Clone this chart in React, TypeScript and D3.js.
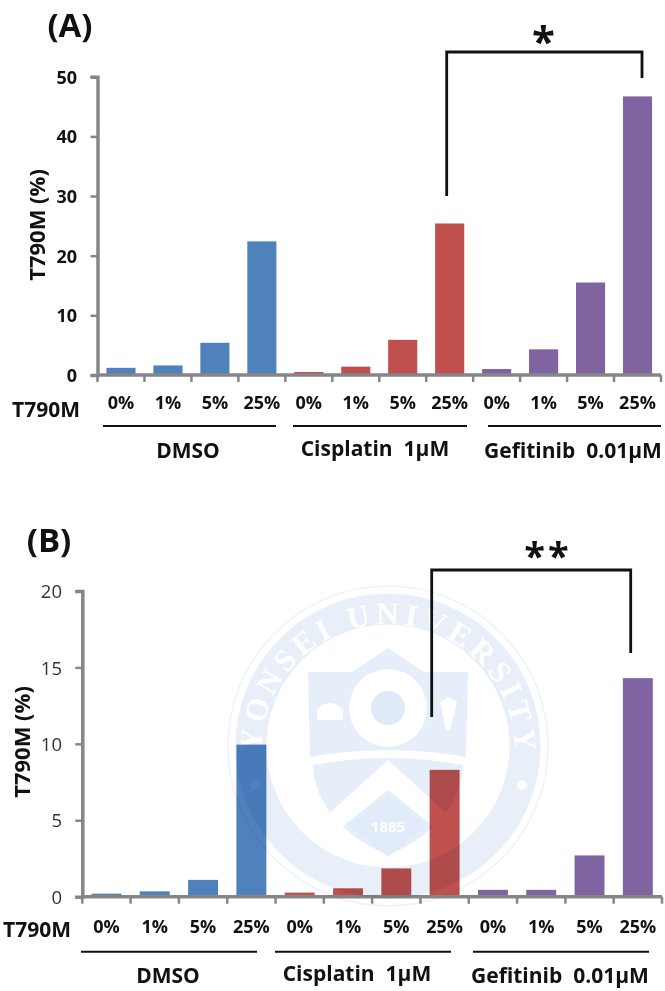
import React, { useEffect, useRef } from 'react';
import * as d3 from 'd3';

const doses = ['0%', '1%', '5%', '25%'];
const groups = ['DMSO', 'Cisplatin  1µM', 'Gefitinib  0.01µM'];
const groupColors = ['#4f81bd', '#c0504d', '#8064a2'];

const valuesA = [1.2, 1.6, 5.4, 22.4, 0.5, 1.4, 5.9, 25.4, 1.0, 4.3, 15.5, 46.7];
const valuesB = [0.2, 0.35, 1.1, 9.95, 0.27, 0.55, 1.85, 8.3, 0.45, 0.45, 2.7, 14.3];
const ticksA = [0, 10, 20, 30, 40, 50];
const ticksB = [0, 5, 10, 15, 20];

const FONT = '"Open Sans", "Noto Sans", sans-serif';

// layout of each panel
const layoutA = {
  left: 97.5, right: 661, top: 76.7, bottom: 375,
  letter: '(A)', letterX: 70, letterY: 37,
  tickWeight: 700, tickFill: '#111', tickX: 77, tickSize: 18,
  titleX: 45, titleY: 225,
  rowX: 12, rowY: 417, doseY: 409,
  lineY: 426,
  lines: [[103, 276], [293, 467], [488, 661]],
  labels: [[188, 458], [375, 456], [573, 458]],
  bracket: { x1: 446.7, y1: 196, x2: 642, y2: 78, top: 52 },
  star: '*', starX: 545, starY: 56, starSize: 42,
};
const layoutB = {
  left: 82.3, right: 662, top: 591, bottom: 896.7,
  letter: '(B)', letterX: 49, letterY: 552,
  tickWeight: 400, tickFill: '#333', tickX: 62, tickSize: 18.5,
  titleX: 30, titleY: 742,
  rowX: 3, rowY: 937, doseY: 933,
  lineY: 951.7,
  lines: [[81, 257], [275, 451], [473, 649]],
  labels: [[168, 983], [357, 981], [560, 983]],
  bracket: { x1: 431.7, y1: 717, x2: 630.7, y2: 653, top: 570 },
  star: '**', starX: 548, starY: 570, starSize: 38,
};

function Panel({ values, ticks, max, layout }: any) {
  const axisRef = useRef<SVGGElement>(null);
  const categories = groups.flatMap((g) => doses.map((d) => g + '|' + d));
  const x = d3.scaleBand().domain(categories).range([layout.left, layout.right]).paddingInner(0.38).paddingOuter(0.19);
  const y = d3.scaleLinear().domain([0, max]).range([layout.bottom, layout.top]);
  const step = x.step();
  const edges = d3.range(13).map((i) => layout.left + i * step);

  useEffect(() => {
    const g = d3.select(axisRef.current);
    g.selectAll('*').remove();
    g.call(d3.axisLeft(y).tickValues(ticks).tickSize(7).tickPadding(0) as any);
    g.select('.domain').attr('stroke', '#868686').attr('stroke-width', 3.5);
    g.selectAll('.tick line').attr('stroke', '#868686').attr('stroke-width', 2.5);
    g.selectAll('.tick text')
      .attr('x', layout.tickX - layout.left)
      .attr('dy', '0.36em')
      .attr('text-anchor', 'end')
      .attr('fill', layout.tickFill)
      .attr('font-family', FONT)
      .attr('font-size', layout.tickSize)
      .attr('font-weight', layout.tickWeight);
  }, []);

  const b = layout.bracket;
  return (
    <g fontFamily={FONT} fill="#111">
      <text x={layout.letterX} y={layout.letterY} textAnchor="middle" fontSize={33} fontWeight={700}>{layout.letter}</text>
      {values.map((v: number, i: number) => (
        <rect key={i} x={x(categories[i])} y={y(v)} width={x.bandwidth()} height={y(0) - y(v)}
          fill={groupColors[Math.floor(i / 4)]} />
      ))}
      <line x1={layout.left} x2={layout.right} y1={y(0)} y2={y(0)} stroke="#868686" strokeWidth={3.5} />
      {edges.map((e) => (
        <line key={e} x1={e} x2={e} y1={y(0)} y2={y(0) + 7} stroke="#868686" strokeWidth={2.5} />
      ))}
      <g ref={axisRef} transform={`translate(${layout.left},0)`} />
      <text transform={`translate(${layout.titleX},${layout.titleY}) rotate(-90)`} textAnchor="middle" fontSize={22} fontWeight={700}>T790M (%)</text>
      <text x={layout.rowX} y={layout.rowY} fontSize={21} fontWeight={700}>T790M</text>
      {categories.map((c, i) => (
        <text key={c} x={x(c)! + x.bandwidth() / 2} y={layout.doseY} textAnchor="middle" fontSize={18} fontWeight={700}>
          {doses[i % 4]}
        </text>
      ))}
      {groups.map((g, i) => (
        <g key={g}>
          <line x1={layout.lines[i][0]} x2={layout.lines[i][1]} y1={layout.lineY} y2={layout.lineY} stroke="#111" strokeWidth={2} />
          <text x={layout.labels[i][0]} y={layout.labels[i][1]} textAnchor="middle" fontSize={21} fontWeight={700} xmlSpace="preserve">{g}</text>
        </g>
      ))}
      <path d={`M${b.x1},${b.y1}V${b.top}H${b.x2}V${b.y2}`} fill="none" stroke="#111" strokeWidth={2.8} />
      <text x={layout.starX} y={layout.starY} textAnchor="middle" fontSize={layout.starSize} fontWeight={700} letterSpacing={3}>{layout.star}</text>
    </g>
  );
}

// pale university seal behind panel B, multiplied over the bars
function Seal() {
  const cx = 388, cy = 746;
  const ring = '#e8eff9';
  const shield = '#e6eefa';
  return (
    <g style={{ mixBlendMode: 'multiply' }}>
      <defs>
        <path id="sealTop" d={`M${cx - 127},${cy + 5} A127,127 0 1 1 ${cx + 127},${cy + 5}`} />
      </defs>
      <circle cx={cx} cy={cy} r={160} fill="none" stroke="#eef3fb" strokeWidth={1.5} />
      <circle cx={cx} cy={cy} r={137} fill="none" stroke={ring} strokeWidth={31} />
      <text fontFamily='"Liberation Serif", serif' fontSize={31} fontWeight={700} fill="#fff">
        <textPath href="#sealTop" startOffset="50%" textAnchor="middle" textLength={400}>YONSEI UNIVERSITY</textPath>
      </text>
      <circle cx={255} cy={785} r={5} fill="#fff" />
      <circle cx={522} cy={785} r={5} fill="#fff" />
      <path d="M308,672H352L388,648L424,672H468L466,757Q388,743 310,757Z" fill={shield} />
      <path d="M313,765Q388,751 463,765C462,805 430,838 388,855C346,838 314,805 313,765Z" fill={shield} />
      <circle cx={388} cy={708} r={39} fill="#fff" />
      <circle cx={388} cy={708} r={17} fill="#dfe9f8" />
      <path d="M317,720V710Q330,696 343,710V720Z" fill="#fff" />
      <path d="M440,702L448,697L457,702L450,730H446Z" fill="#fff" />
      <path d="M388,760L452,818L440,832L388,790L336,832L324,818Z" fill="#fff" />
      <path d="M388,795L426,825L388,857L350,825Z" fill="#e2ebf9" />
      <text x={388} y={832} textAnchor="middle" fontFamily={FONT} fontSize={15} fontWeight={700} fill="#fff">1885</text>
    </g>
  );
}

export default function App() {
  return (
    <svg width={665} height={991} style={{ position: 'absolute', left: 0, top: 0, background: '#fff' }}>
      <Panel values={valuesA} ticks={ticksA} max={50} layout={layoutA} />
      <Panel values={valuesB} ticks={ticksB} max={20} layout={layoutB} />
      <Seal />
    </svg>
  );
}
